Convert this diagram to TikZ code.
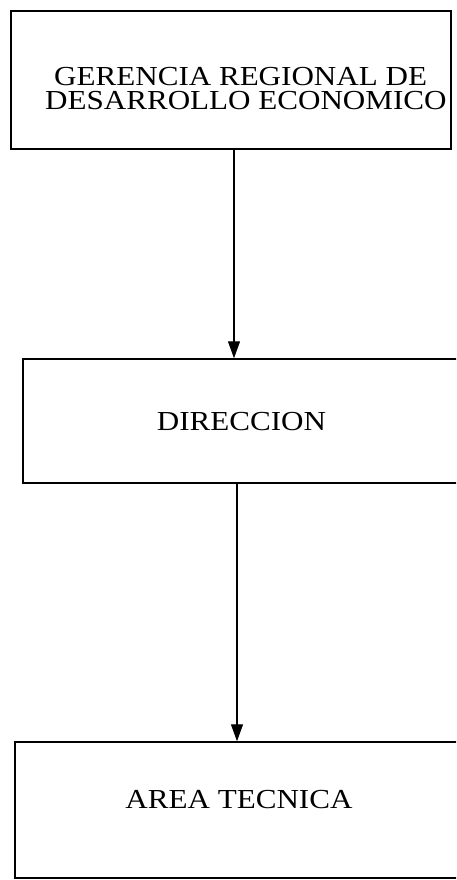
\documentclass[tikz,border=0pt]{standalone}
\usepackage{fontspec}
\setmainfont[FakeStretch=1.13]{Liberation Serif}
\usetikzlibrary{arrows.meta}
\tikzset{
  boxnode/.style={draw=black, line width=1.5pt, rectangle, inner sep=0pt},
  lbl/.style={anchor=base, inner sep=0pt, font=\fontsize{27.5pt}{24.5pt}\selectfont},
  arr/.style={line width=1.2pt, -{Triangle[width=12pt,length=17pt]}}
}
\begin{document}
\begin{tikzpicture}[x=1pt,y=-1pt]
\useasboundingbox (0,0) rectangle (456,880);
\clip (0,0) rectangle (456,880);
\fill[white] (0,0) rectangle (456,880);
% boxes
\node[boxnode, minimum width=440pt, minimum height=138pt] (b1) at (231,80) {};
\node[boxnode, minimum width=437pt, minimum height=124pt] (b2) at (241.5,421) {};
\node[boxnode, minimum width=448pt, minimum height=136pt] (b3) at (239,810) {};
% texts
\node[lbl, anchor=base west, align=left] (t1) at (45,110) {\hspace*{9pt}GERENCIA REGIONAL DE\\DESARROLLO ECONOMICO};
\node[lbl] (t2) at (241.5,430) {DIRECCION};
\node[lbl] (t3) at (239,808) {AREA TECNICA};
% connectors
\draw[arr] ([xshift=3pt]b1.south) -- ([xshift=3pt]b1.south |- b2.north);
\draw[arr] ([xshift=-4.5pt]b2.south) -- ([xshift=-4.5pt]b2.south |- b3.north);
\end{tikzpicture}
\end{document}
